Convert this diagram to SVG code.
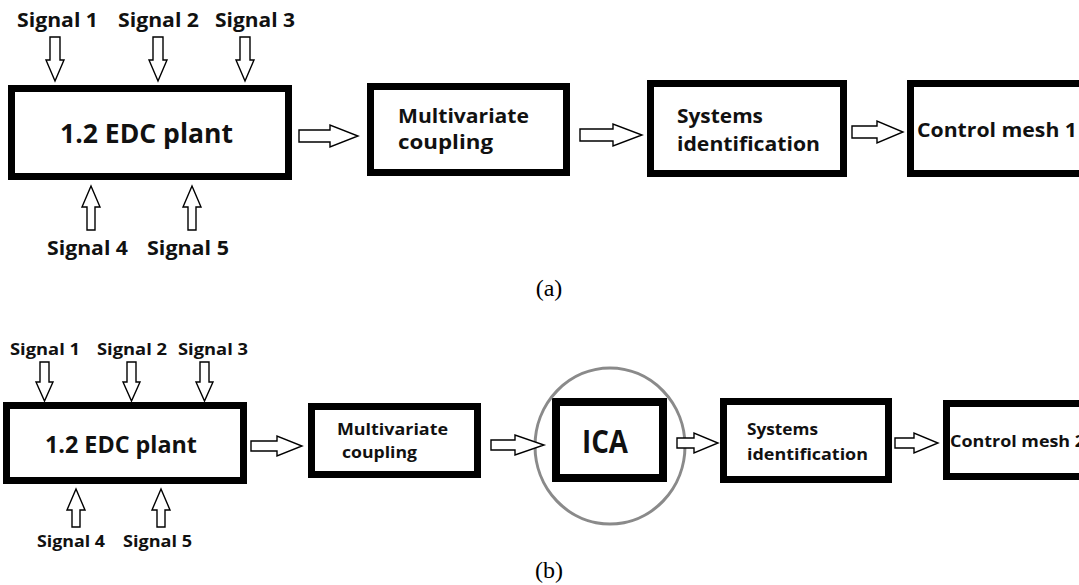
<svg xmlns="http://www.w3.org/2000/svg" width="1079" height="585" viewBox="0 0 1079 585">
  <style>
    .box { fill: #fff; stroke: #000; stroke-width: 7; }
    .ica { fill: #fff; stroke: #000; stroke-width: 8; }
    .arr { fill: #fff; stroke: #000; stroke-width: 1.4; stroke-linejoin: miter; }
    .lbl { font-family: "Open Sans", Lato, "Liberation Sans", sans-serif; font-weight: 700; fill: #111; }
    .cap { font-family: "Liberation Serif", "Times New Roman", serif; font-size: 24px; fill: #000; text-anchor: middle; }
    .ring { fill: none; stroke: #8a8a8a; stroke-width: 3; }
  </style>
  <rect width="1079" height="585" fill="#fff"/>

  <!-- ===== Panel (a) ===== -->
  <g id="a-plant">
    <rect class="box" x="11.5" y="88.5" width="277" height="88"/>
    <text class="lbl" x="60" y="143" font-size="26" textLength="173" lengthAdjust="spacingAndGlyphs">1.2 EDC plant</text>
  </g>
  <g id="a-signals" class="lbl" font-size="19">
    <text x="17" y="27" textLength="81" lengthAdjust="spacingAndGlyphs">Signal 1</text>
    <text x="118" y="27" textLength="81" lengthAdjust="spacingAndGlyphs">Signal 2</text>
    <text x="215" y="27" textLength="80" lengthAdjust="spacingAndGlyphs">Signal 3</text>
    <text x="47" y="255" textLength="81" lengthAdjust="spacingAndGlyphs">Signal 4</text>
    <text x="147" y="255" textLength="82" lengthAdjust="spacingAndGlyphs">Signal 5</text>
  </g>
  <g id="a-coupling">
    <rect class="box" x="370.5" y="86.5" width="196" height="86"/>
    <text class="lbl" font-size="19">
      <tspan x="398" y="123" textLength="131" lengthAdjust="spacingAndGlyphs">Multivariate</tspan>
      <tspan x="398" y="149" textLength="95" lengthAdjust="spacingAndGlyphs">coupling</tspan>
    </text>
  </g>
  <g id="a-sysid">
    <rect class="box" x="650.5" y="83.5" width="193" height="90"/>
    <text class="lbl" font-size="19">
      <tspan x="677" y="123" textLength="86" lengthAdjust="spacingAndGlyphs">Systems</tspan>
      <tspan x="677" y="151" textLength="143" lengthAdjust="spacingAndGlyphs">identification</tspan>
    </text>
  </g>
  <g id="a-mesh">
    <rect class="box" x="910.5" y="83.5" width="200" height="90"/>
    <text class="lbl" x="917" y="137" font-size="19" textLength="160" lengthAdjust="spacingAndGlyphs">Control mesh 1</text>
  </g>
  <g id="a-connectors">
    <!-- signal inputs (down) -->
    <path class="arr" d="M50,37 H60 V60 H64 L55,81 L46,60 H50 Z"/>
    <path class="arr" d="M153,37 H163 V60 H167 L158,81 L149,60 H153 Z"/>
    <path class="arr" d="M240,37 H250 V60 H254 L245,81 L236,60 H240 Z"/>
    <!-- signal inputs (up) -->
    <path class="arr" d="M87,230 H95 V207 H100 L91,186 L82,207 H87 Z"/>
    <path class="arr" d="M188,230 H196 V207 H201 L192,186 L183,207 H188 Z"/>
    <!-- chain -->
    <path class="arr" d="M299,130 H330 V125 L358,136 L330,147 V142 H299 Z"/>
    <path class="arr" d="M580,129 H613 V124 L642,135 L613,146 V141 H580 Z"/>
    <path class="arr" d="M852,126 H877 V121 L903,132 L877,143 V138 H852 Z"/>
  </g>
  <text class="cap" x="549" y="296">(a)</text>

  <!-- ===== Panel (b) ===== -->
  <g id="b-plant">
    <rect class="box" x="6.5" y="405.5" width="237" height="75"/>
    <text class="lbl" x="45" y="453" font-size="23" textLength="152" lengthAdjust="spacingAndGlyphs">1.2 EDC plant</text>
  </g>
  <g id="b-signals" class="lbl" font-size="16">
    <text x="10" y="355" textLength="70" lengthAdjust="spacingAndGlyphs">Signal 1</text>
    <text x="97" y="355" textLength="70" lengthAdjust="spacingAndGlyphs">Signal 2</text>
    <text x="178" y="355" textLength="70" lengthAdjust="spacingAndGlyphs">Signal 3</text>
    <text x="37" y="547" textLength="68" lengthAdjust="spacingAndGlyphs">Signal 4</text>
    <text x="123" y="547" textLength="69" lengthAdjust="spacingAndGlyphs">Signal 5</text>
  </g>
  <g id="b-coupling">
    <rect class="box" x="311.5" y="406.5" width="166" height="68"/>
    <text class="lbl" font-size="16">
      <tspan x="337" y="435" textLength="111" lengthAdjust="spacingAndGlyphs">Multivariate</tspan>
      <tspan x="342" y="458" textLength="75" lengthAdjust="spacingAndGlyphs">coupling</tspan>
    </text>
  </g>
  <g id="b-ica">
    <rect class="ica" x="556" y="402" width="107" height="76"/>
    <text class="lbl" x="582" y="453" font-size="32" textLength="46" lengthAdjust="spacingAndGlyphs">ICA</text>
    <ellipse class="ring" cx="610" cy="446" rx="75" ry="78"/>
  </g>
  <g id="b-sysid">
    <rect class="box" x="723.5" y="401.5" width="165" height="78"/>
    <text class="lbl" font-size="16">
      <tspan x="747" y="435" textLength="71" lengthAdjust="spacingAndGlyphs">Systems</tspan>
      <tspan x="747" y="460" textLength="121" lengthAdjust="spacingAndGlyphs">identification</tspan>
    </text>
  </g>
  <g id="b-mesh">
    <rect class="box" x="946.5" y="403.5" width="150" height="73"/>
    <text class="lbl" x="950" y="447" font-size="16" textLength="135" lengthAdjust="spacingAndGlyphs">Control mesh 2</text>
  </g>
  <g id="b-connectors">
    <!-- signal inputs (down) -->
    <path class="arr" d="M40,362 H49 V382 H53 L44.5,401 L36,382 H40 Z"/>
    <path class="arr" d="M127,362 H136 V382 H140 L131.5,401 L123,382 H127 Z"/>
    <path class="arr" d="M200,362 H209 V382 H213 L204.5,401 L196,382 H200 Z"/>
    <!-- signal inputs (up) -->
    <path class="arr" d="M72,527 H80 V510 H85 L76,489 L67,510 H72 Z"/>
    <path class="arr" d="M157,527 H165 V510 H170 L161,489 L152,510 H157 Z"/>
    <!-- chain -->
    <path class="arr" d="M251,441 H277 V436 L302,446 L277,456 V451 H251 Z"/>
    <path class="arr" d="M491,440 H515 V435 L544,445 L515,455 V450 H491 Z"/>
    <path class="arr" d="M677,438 H694 V433 L718,443 L694,453 V448 H677 Z"/>
    <path class="arr" d="M895,438 H914 V433 L938,443 L914,453 V448 H895 Z"/>
  </g>
  <text class="cap" x="549" y="578">(b)</text>
</svg>
